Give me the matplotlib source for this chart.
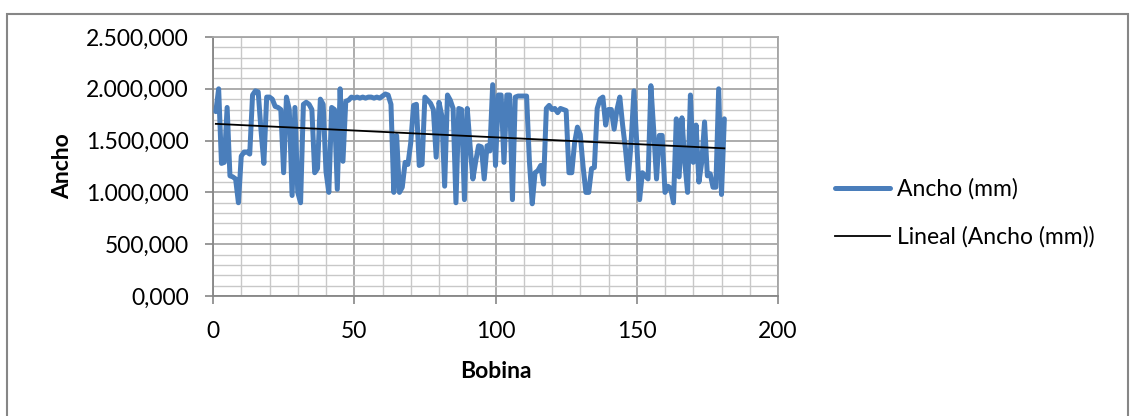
import numpy as np
import matplotlib
matplotlib.use("Agg")
import matplotlib.pyplot as plt
from matplotlib.ticker import MultipleLocator, FuncFormatter
from matplotlib.patches import Rectangle

bobina = list(range(1, 182))
ancho = [
    1780, 2000, 1280, 1290, 1820, 1160, 1150, 1130, 900, 1350,
    1390, 1390, 1370, 1940, 1980, 1970, 1600, 1280, 1920, 1920,
    1900, 1830, 1820, 1800, 1190, 1920, 1800, 970, 1820, 1000,
    900, 1850, 1870, 1850, 1800, 1190, 1230, 1900, 1850, 1200,
    1000, 1820, 1800, 1030, 2000, 1300, 1880, 1890, 1920, 1910,
    1920, 1910, 1920, 1910, 1920, 1920, 1910, 1920, 1910, 1930,
    1950, 1940, 1850, 1000, 1550, 1000, 1050, 1290, 1270, 1480,
    1840, 1850, 1260, 1270, 1920, 1890, 1860, 1800, 1340, 1870,
    1740, 1060, 1940, 1890, 1810, 900, 1810, 1800, 930, 1810,
    1450, 1130, 1300, 1450, 1440, 1130, 1450, 1400, 2040, 1260,
    1940, 1940, 1290, 1940, 1940, 930, 1920, 1930, 1930, 1930,
    1930, 1300, 890, 1190, 1210, 1260, 1080, 1810, 1840, 1800,
    1810, 1770, 1810, 1800, 1790, 1190, 1190, 1480, 1630, 1560,
    1250, 1000, 1000, 1230, 1240, 1810, 1900, 1920, 1650, 1800,
    1800, 1610, 1800, 1920, 1650, 1420, 1130, 1480, 1980, 1480,
    930, 1190, 1160, 1130, 2030, 1600, 1130, 1550, 1550, 1000,
    1060, 1040, 900, 1710, 1150, 1720, 1290, 1000, 1940, 1290,
    1650, 1100, 1290, 1680, 1160, 1180, 1050, 1050, 2000, 980,
    1710,
]
series_label = "Ancho (mm)"
trend_label = "Lineal (Ancho (mm))"
x_label = "Bobina"
y_label = "Ancho"

plt.rcParams['font.family'] = ['Lato', 'DejaVu Sans']
FS = 16.5

fig = plt.figure(figsize=(11.36, 4.16), dpi=100)
ax = fig.add_axes([213 / 1136, 1 - 296 / 416, (778 - 213) / 1136, (296 - 37) / 416])

fig.patches.append(Rectangle((7 / 1136, -0.02), (1128 - 7) / 1136, 1.003 - 7 / 416,
                             transform=fig.transFigure, fill=False,
                             edgecolor='#868686', linewidth=1.5))

x = np.array(bobina, dtype=float)
y = np.array(ancho, dtype=float)
ax.plot(x, y, color='#4a7ebb', linewidth=3.6, solid_joinstyle='round',
        solid_capstyle='round', label=series_label, zorder=3)
coef = np.polyfit(x, y, 1)
xt = np.array([x.min(), x.max()])
ax.plot(xt, np.polyval(coef, xt), color='black', linewidth=1.3, label=trend_label, zorder=4)

ax.set_xlim(0, 200)
ax.set_ylim(0, 2500)
ax.xaxis.set_major_locator(MultipleLocator(50))
ax.xaxis.set_minor_locator(MultipleLocator(10))
ax.yaxis.set_major_locator(MultipleLocator(500))
ax.yaxis.set_minor_locator(MultipleLocator(100))

def fmt(v, pos):
    s = f"{v:,.3f}"
    return s.replace(',', 'X').replace('.', ',').replace('X', '.')
ax.yaxis.set_major_formatter(FuncFormatter(fmt))

ax.grid(which='major', color='#a6a6a6', linewidth=1.3, zorder=0)
ax.grid(which='minor', color='#c8c8c8', linewidth=1.0, zorder=0)
ax.set_axisbelow(True)
for side in ['top', 'right']:
    ax.spines[side].set_color('#a6a6a6')
    ax.spines[side].set_linewidth(1.3)
for side in ['left', 'bottom']:
    ax.spines[side].set_color('#868686')
    ax.spines[side].set_linewidth(1.3)
ax.tick_params(which='major', length=5.5, width=1.2, color='#868686', labelsize=FS)
ax.tick_params(axis='y', pad=12)
ax.tick_params(axis='x', pad=12.5)
ax.tick_params(which='minor', length=0)

ax.set_xlabel(x_label, fontsize=FS, fontweight='bold', labelpad=14)
ax.set_ylabel(y_label, fontsize=FS, fontweight='bold', labelpad=9)

leg = fig.legend(loc='center left', bbox_to_anchor=(835 / 1136, 1 - 213 / 416),
                 bbox_transform=fig.transFigure, frameon=False, borderpad=0,
                 borderaxespad=0, fontsize=FS, handlelength=2.4,
                 labelspacing=1.15, handletextpad=0.3)

fig.savefig('out.png', dpi=100)
